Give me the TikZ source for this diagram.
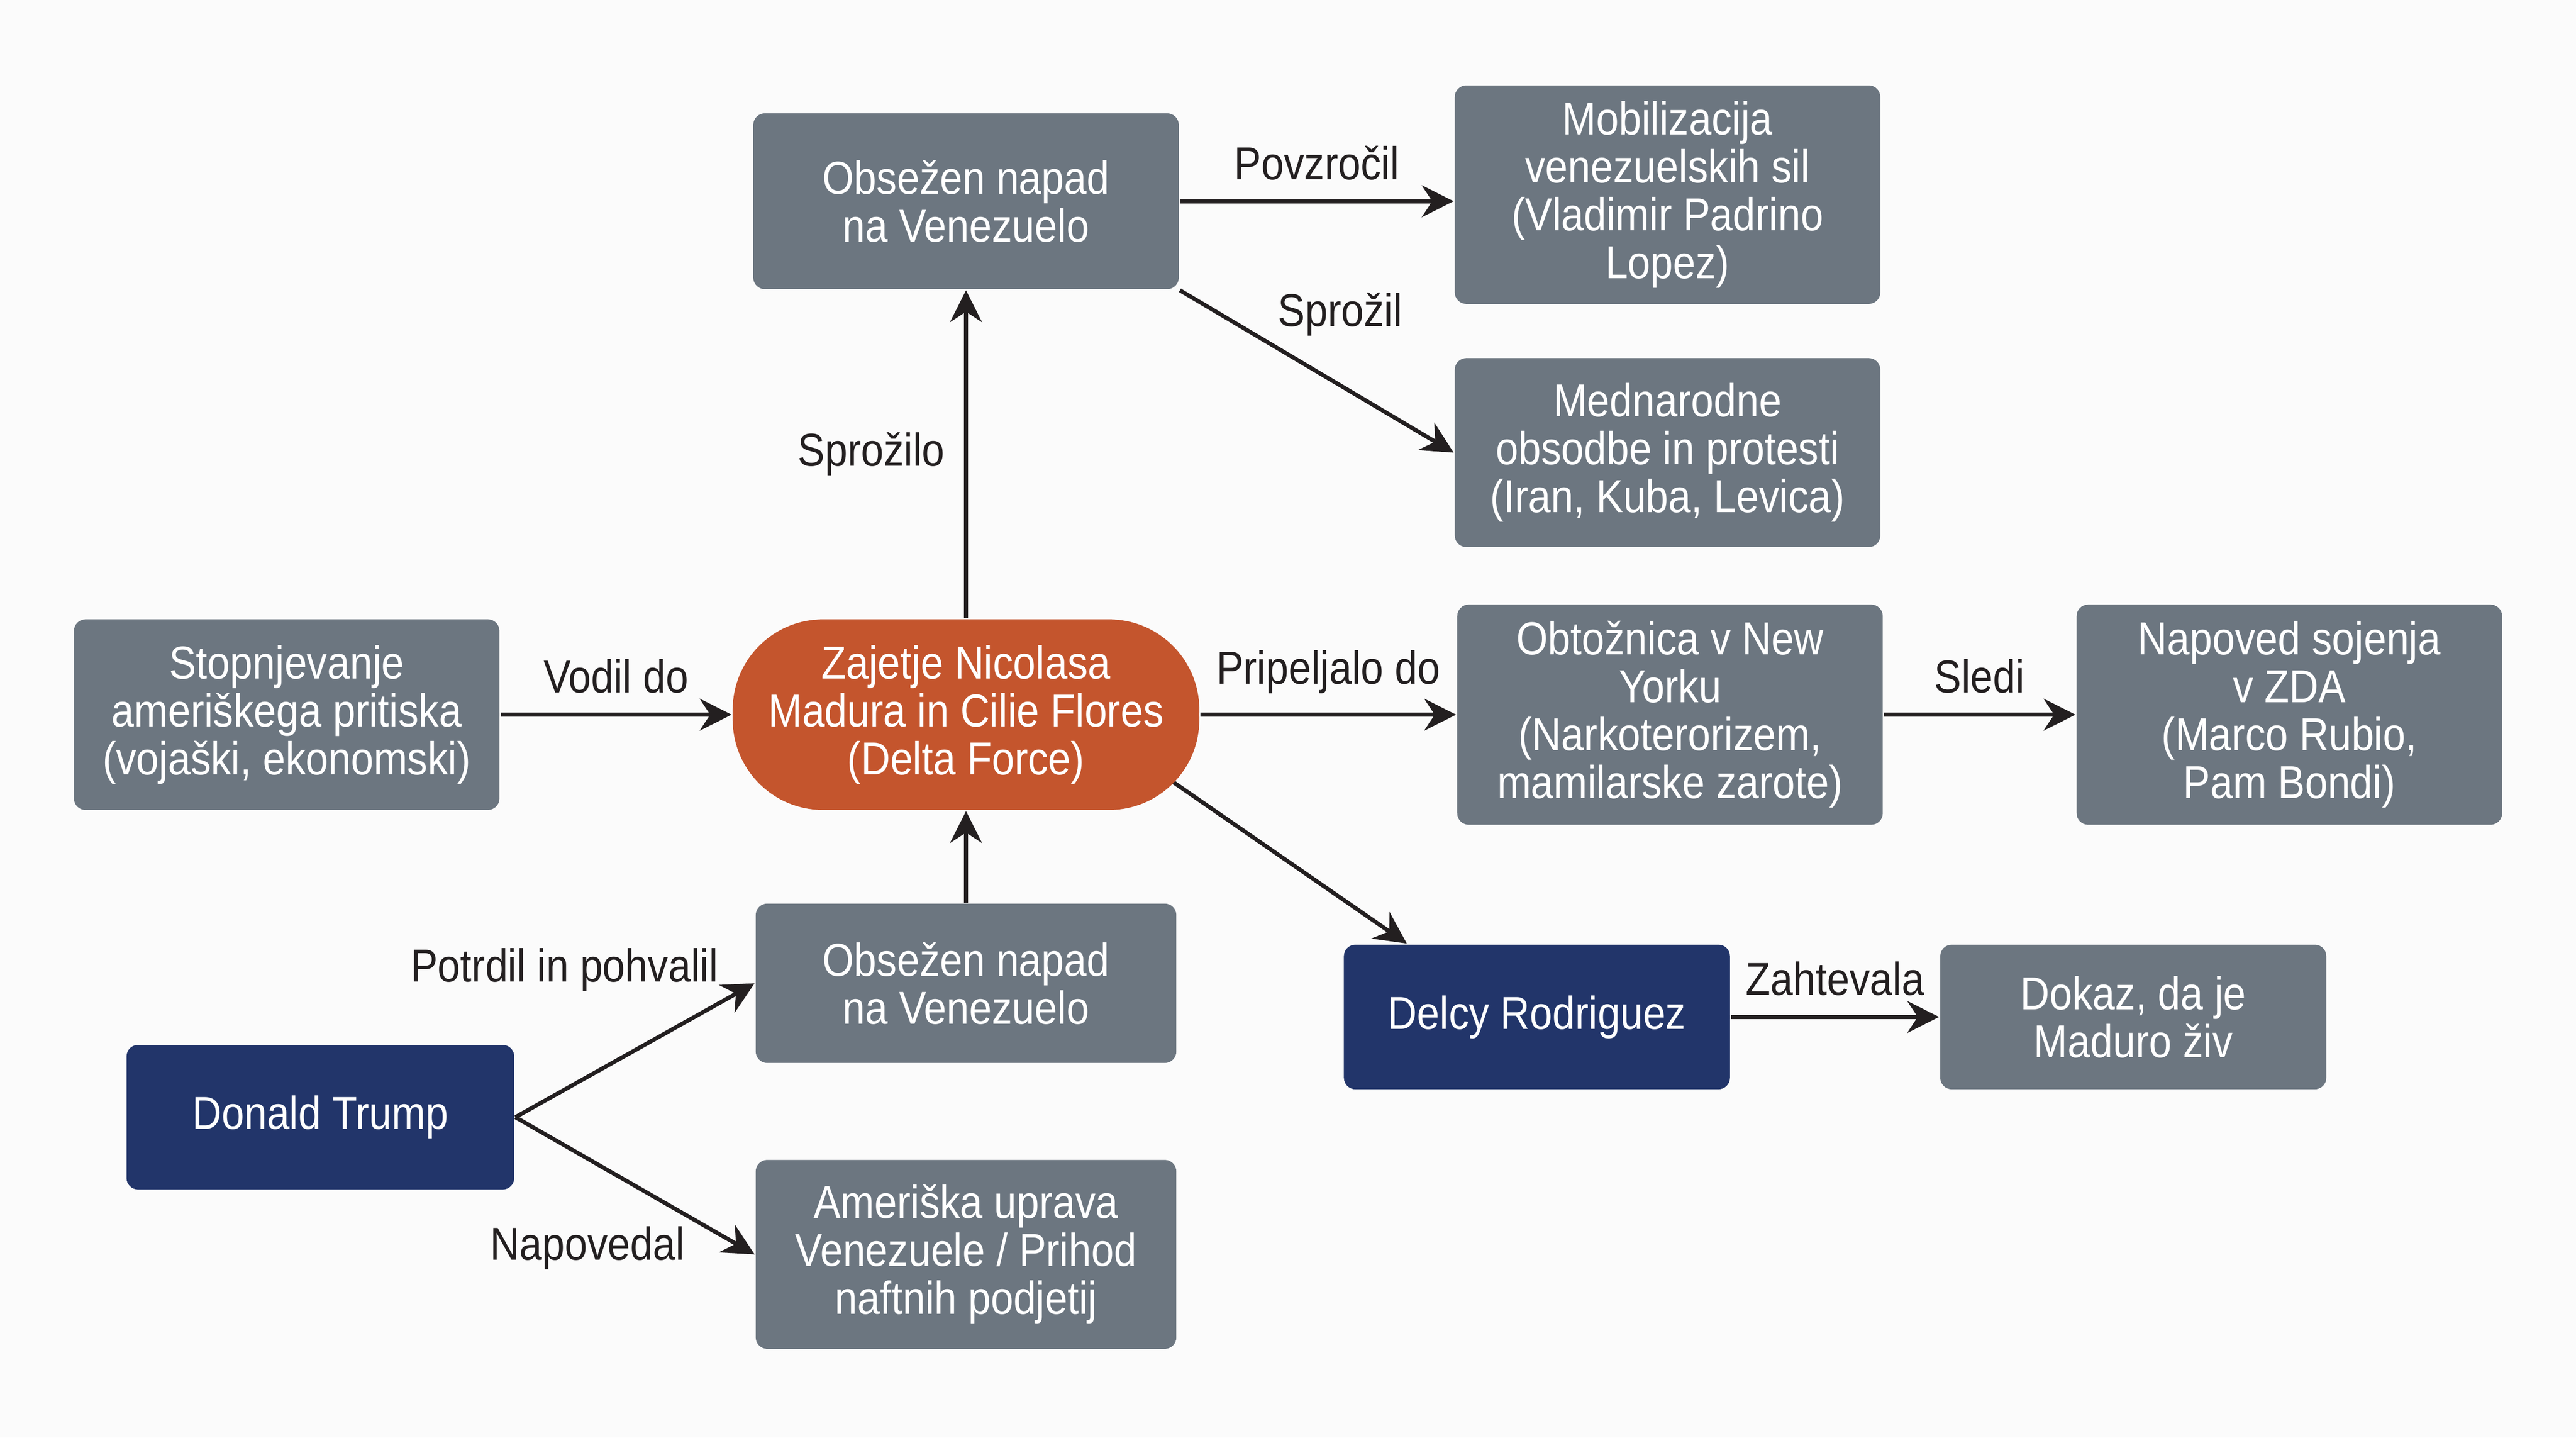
\documentclass[tikz,border=0pt]{standalone}
\usepackage{fontspec}
\setmainfont{Liberation Sans}[FakeStretch=0.88]
\usetikzlibrary{arrows.meta,positioning,calc,backgrounds}

\definecolor{boxgray}{HTML}{6C7680}
\definecolor{capred}{HTML}{C4552D}
\definecolor{navy}{HTML}{22356A}
\definecolor{linecol}{HTML}{231F20}
\definecolor{pagebg}{HTML}{FBFBFB}

\tikzset{
  box/.style={rectangle, rounded corners=2pt, fill=boxgray, text=white, align=center, minimum width=2.59cm, inner sep=1pt},
  person/.style={box, fill=navy, minimum width=2.35cm, minimum height=0.88cm},
  capture/.style={box, fill=capred, rounded corners=0.55cm, minimum width=2.84cm, minimum height=1.16cm},
  arr/.style={-{Stealth[length=5.5pt,width=5.5pt,inset=1.8pt]}, line width=0.7pt, color=linecol},
}

\begin{document}
\begin{tikzpicture}[node distance=2cm, on grid, auto, font=\fontsize{8}{8.3}\selectfont]
            \useasboundingbox (0,0) rectangle (15.68,8.75);
            \node[capture] (cap) at (5.88,4.40) {Zajetje Nicolasa\\Madura in Cilie Flores\\(Delta Force)};
            \node[box, minimum height=1.07cm, above=3.125cm of cap] (top) {Obsežen napad\\na Venezuelo};
            \node[box, minimum height=1.33cm, right=4.27cm of top, yshift=0.04cm] (mob) {Mobilizacija\\venezuelskih sil\\(Vladimir Padrino\\Lopez)};
            \node[box, minimum height=1.15cm, below=1.57cm of mob] (med) {Mednarodne\\obsodbe in protesti\\(Iran, Kuba, Levica)};
            \node[box, minimum height=1.16cm, left=4.135cm of cap] (stop) {Stopnjevanje\\ameriškega pritiska\\(vojaški, ekonomski)};
            \node[box, minimum height=1.34cm, right=4.285cm of cap] (obt) {Obtožnica v New\\Yorku\\(Narkoterorizem,\\mamilarske zarote)};
            \node[box, minimum height=1.34cm, right=3.77cm of obt] (nap) {Napoved sojenja\\v ZDA\\(Marco Rubio,\\Pam Bondi)};
            \node[box, minimum width=2.56cm, minimum height=0.97cm, below=1.635cm of cap] (bot) {Obsežen napad\\na Venezuelo};
            \node[box, minimum width=2.56cm, minimum height=1.15cm, below=1.65cm of bot] (ame) {Ameriška uprava\\Venezuele / Prihod\\naftnih podjetij};
            \node[person, below right=1.84cm and 3.475cm of cap] (delcy) {Delcy Rodriguez};
            \node[box, minimum width=2.35cm, minimum height=0.88cm, right=3.63cm of delcy] (dokaz) {Dokaz, da je\\Maduro živ};
            \node[person, minimum width=2.36cm, below left=2.45cm and 3.93cm of cap] (trump) {Donald Trump};
            \path[arr]
            (stop) edge node {Vodil do} (cap)
            (cap) edge node {Sprožilo} (top)
            (top.east) edge node {Povzročil} (top.east -| mob.west)
            (top.south east) edge node[pos=0.33, inner sep=1pt] {Sprožil} (med.west)
            (cap) edge node {Pripeljalo do} (obt)
            (obt) edge node {Sledi} (nap)
            (bot) edge (cap)
            (delcy) edge node {Zahtevala} (dokaz)
            (trump.east) edge node[pos=0.88, inner sep=1pt] {Potrdil in pohvalil} (bot.west)
            (trump.east) edge node[swap, pos=0.74, inner sep=1pt] {Napovedal} (ame.west);
            \begin{scope}[on background layer]
            \fill[pagebg] (0,0) rectangle (15.68,8.75);
            \draw[arr] ($(cap.center)+(1.0,-0.23)$) -- ($(delcy.north west)+(0.39,0)$);
            \end{scope}
        \end{tikzpicture}
\end{document}
